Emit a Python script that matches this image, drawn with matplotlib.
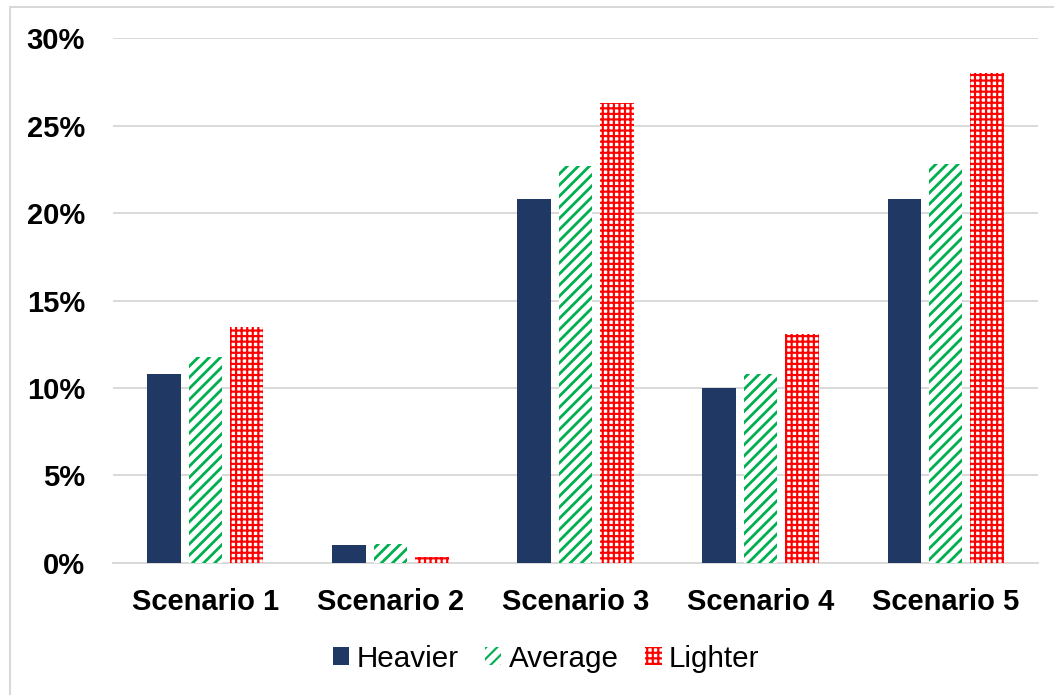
import matplotlib
matplotlib.use("Agg")
import matplotlib.pyplot as plt
from matplotlib.patches import Rectangle
from matplotlib.ticker import FuncFormatter
import numpy as np

categories = ["Scenario 1", "Scenario 2", "Scenario 3", "Scenario 4", "Scenario 5"]
heavier = [10.8, 1.0, 20.8, 10.0, 20.8]
average = [11.8, 1.1, 22.7, 10.8, 22.8]
lighter = [13.5, 0.35, 26.3, 13.1, 28.0]
y_ticks = [0, 5, 10, 15, 20, 25, 30]

plt.rcParams["font.family"] = ["Liberation Sans", "DejaVu Sans"]

fig = plt.figure(figsize=(10.54, 6.95), dpi=100)
ax = fig.add_axes([0.107, 0.19, 0.878, 0.755])

x = np.arange(len(categories))
w = 0.18
step = 0.224

ax.bar(x - step, heavier, w, color="#203864", label="Heavier", zorder=3)

plt.rcParams["hatch.linewidth"] = 2.0
ax.bar(x, average, w, facecolor="white", edgecolor="#00B050", hatch="///",
       linewidth=0, label="Average", zorder=3)

plt.rcParams["hatch.linewidth"] = 1.55
ax.bar(x + step, lighter, w, facecolor="white", edgecolor="#FF0000", hatch="+++",
       linewidth=0, label="Lighter", zorder=3)

ax.set_xlim(-0.5, len(categories) - 0.5)
ax.set_ylim(0, 30)
ax.set_yticks(y_ticks)
ax.yaxis.set_major_formatter(FuncFormatter(lambda v, p: f"{v:.0f}%"))
ax.set_xticks(x)
ax.set_xticklabels(categories)
ax.tick_params(axis="both", length=0, labelsize=21)
ax.tick_params(axis="y", pad=20)
ax.tick_params(axis="x", pad=18)
for lbl in ax.get_xticklabels() + ax.get_yticklabels():
    lbl.set_fontweight("bold")

ax.grid(axis="y", color="#D9D9D9", linewidth=1.4, zorder=0)
for s in ["top", "right", "left"]:
    ax.spines[s].set_visible(False)
ax.spines["bottom"].set_color("#D9D9D9")
ax.spines["bottom"].set_linewidth(1.4)

leg = fig.legend(loc="center", bbox_to_anchor=(0.518, 0.052), ncol=3, frameon=False,
                 fontsize=21.3, handlelength=0.55, handleheight=0.55,
                 handletextpad=0.25, columnspacing=0.9)

# chart-area outline
fig.patches.append(Rectangle((10 / 1054, -0.05), 1.1, 1 - 7 / 695 + 0.05,
                             transform=fig.transFigure, fill=False,
                             edgecolor="#D9D9D9", linewidth=1.5))

fig.savefig("out.png", dpi=100)
